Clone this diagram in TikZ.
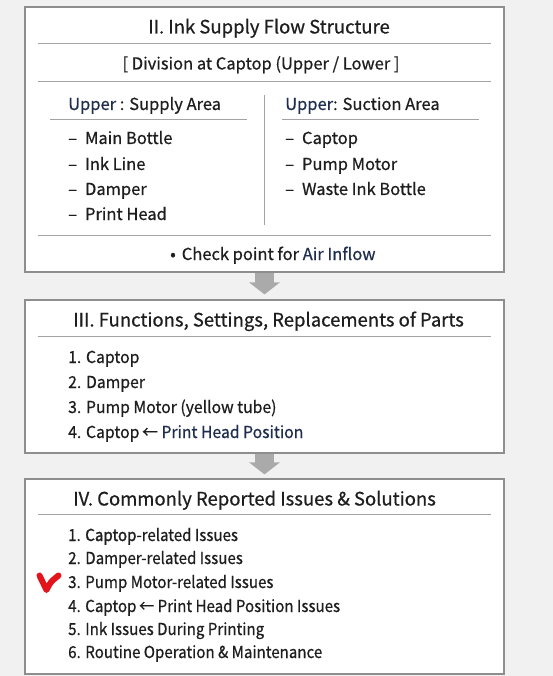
\documentclass[tikz,border=0pt]{standalone}
\usepackage{fontspec}
\setmainfont{Noto Sans CJK KR}[FakeBold=0.6]
\usetikzlibrary{arrows.meta}
\definecolor{bg}{HTML}{F1F1F1}
\definecolor{boxline}{HTML}{8E8E8E}
\definecolor{rulecol}{HTML}{A3A3A3}
\definecolor{navy}{HTML}{1F2E4F}
\definecolor{ink}{HTML}{1E1E1E}
\definecolor{arrowgray}{HTML}{AAAAAA}
\definecolor{checkred}{HTML}{E3141B}
\tikzset{
  panel/.style={draw=boxline, line width=1.1pt, fill=white, inner sep=0pt},
  sep/.style={draw=rulecol, line width=0.8pt},
  ttl/.style={text=ink, inner sep=0pt, font=\fontsize{18.5}{22}\selectfont},
  itm/.style={text=ink, inner sep=0pt, anchor=base west, font=\fontsize{16.5}{20}\selectfont},
  itmthree/.style={text=ink, inner sep=0pt, anchor=base west, font=\fontsize{16.5}{20}\selectfont\addfontfeature{FakeStretch=0.955}},
  itmfour/.style={text=ink, inner sep=0pt, anchor=base west, font=\fontsize{16.5}{20}\selectfont\addfontfeature{FakeStretch=0.915}},
  ctr/.style={text=ink, inner sep=0pt, anchor=base, font=\fontsize{16.5}{20}\selectfont},
  blockarrow/.style={draw=arrowgray, line width=19pt, -{Triangle[width=30pt,length=12pt]}},
}
\begin{document}
\begin{tikzpicture}[x=1pt,y=-1pt]
\useasboundingbox (0,0) rectangle (553,676);
\fill[bg] (0,0) rectangle (553,676);

% boxes
\node[panel, minimum width=479pt, minimum height=265pt] (box1) at (264.5,139.5) {};
\node[panel, minimum width=479pt, minimum height=153pt] (box2) at (264.5,376.5) {};
\node[panel, minimum width=479pt, minimum height=195pt] (box3) at (264.5,576.5) {};

% connectors
\draw[blockarrow] (box1.south) -- ([yshift=5pt]box2.north);
\draw[blockarrow] (box2.south) -- ([yshift=4pt]box3.north);

% ---- box 1 ----
\node[ttl, anchor=base] (t2) at (269,33.5) {II. Ink Supply Flow Structure};
\draw[sep] (38,43.5) -- (491,43.5);
\node[ctr] (div) at (261,69.5) {[ Division at Captop (Upper / Lower ]};
\draw[sep] (38,81) -- (491,81);

\node[itm] (upl) at (68,110) {{\color{navy}Upper} : Supply Area};
\node[itm] (upr) at (285,110) {{\color{navy}Upper}: Suction Area};
\draw[sep] (50,119.5) -- (247,119.5);
\draw[sep] (282,119.5) -- (479,119.5);
\draw[sep] (264,95) -- (264,225);

\node[itm] (l1) at (68,144) {–\hspace{8pt}Main Bottle};
\node[itm] (l2) at (68,170) {–\hspace{8pt}Ink Line};
\node[itm] (l3) at (68,195) {–\hspace{8pt}Damper};
\node[itm] (l4) at (68,220) {–\hspace{8pt}Print Head};

\node[itm] (r1) at (285,144) {–\hspace{8pt}Captop};
\node[itm] (r2) at (285,170) {–\hspace{8pt}Pump Motor};
\node[itm] (r3) at (285,195) {–\hspace{8pt}Waste Ink Bottle};

\draw[sep] (38,235) -- (491,235);
\node[itm] (chk) at (170,260) {•\hspace{6pt}Check point for {\color{navy}Air Inflow}};

% ---- box 2 ----
\node[ttl, anchor=base west] (t3) at (73,326.5) {III. Functions, Settings, Replacements of Parts};
\draw[sep] (38,336) -- (491,336);
\node[itmthree] (f1) at (68,363) {1. Captop};
\node[itmthree] (f2) at (68,388) {2. Damper};
\node[itmthree] (f3) at (68,413) {3. Pump Motor (yellow tube)};
\node[itmthree] (f4) at (68,438) {4. Captop\,← {\color{navy}Print Head Position}};

% ---- box 3 ----
\node[ttl, anchor=base west] (t4) at (73,505.5) {IV. Commonly Reported Issues \& Solutions};
\draw[sep] (38,514) -- (491,514);
\node[itmfour] (i1) at (68,541) {1. {\addfontfeature{FakeBold=1.4}Captop}-related Issues};
\node[itmfour] (i2) at (68,564) {2. Damper-related Issues};
\node[itmfour] (i3) at (68,588) {3. Pump Motor-related Issues};
\node[itmfour] (i4) at (68,612) {4. Captop\,← Print Head Position Issues};
\node[itmfour] (i5) at (68,635) {5. Ink Issues During Printing};
\node[itmfour] (i6) at (68,658) {6. Routine Operation \& Maintenance};

% red check mark
\draw[checkred, line width=6pt, line cap=round, line join=round]
  (39.5,575.5) .. controls (42.5,582) .. (46.5,590) .. controls (50.5,582) .. (58.5,575.5);
\end{tikzpicture}
\end{document}
